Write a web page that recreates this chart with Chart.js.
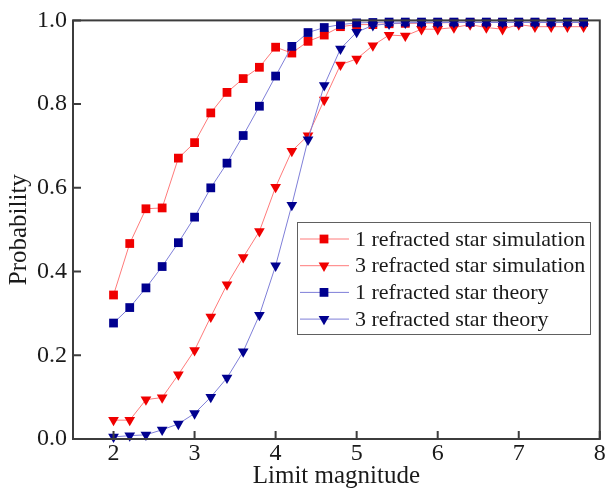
<!DOCTYPE html>
<html>
<head>
<meta charset="utf-8">
<script src="https://cdn.jsdelivr.net/npm/chart.js@4.4.1/dist/chart.umd.min.js"></script>
<style>
  html, body { margin: 0; padding: 0; background: #fff; }
  #wrap { position: relative; width: 606px; height: 493px; }
</style>
</head>
<body>
<div id="wrap"><canvas id="probChart"></canvas></div>
<script>
const magnitude = [2.0, 2.2, 2.4, 2.6, 2.8, 3.0, 3.2, 3.4, 3.6, 3.8, 4.0, 4.2, 4.4, 4.6, 4.8,
                   5.0, 5.2, 5.4, 5.6, 5.8, 6.0, 6.2, 6.4, 6.6, 6.8, 7.0, 7.2, 7.4, 7.6, 7.8]
const sim1 = [0.344, 0.467, 0.550, 0.552, 0.671, 0.708, 0.779, 0.828, 0.861, 0.888, 0.936, 0.922, 0.950, 0.965, 0.985,
              0.990, 0.990, 0.992, 0.993, 0.993, 0.994, 0.995, 0.995, 0.995, 0.995, 0.995, 0.995, 0.995, 0.995, 0.995]
const sim3 = [0.045, 0.045, 0.094, 0.099, 0.154, 0.212, 0.292, 0.369, 0.434, 0.496, 0.602, 0.688, 0.725, 0.810, 0.894,
              0.908, 0.940, 0.965, 0.963, 0.979, 0.979, 0.983, 0.990, 0.983, 0.979, 0.990, 0.985, 0.985, 0.985, 0.985]
const theory1 = [0.277, 0.314, 0.361, 0.412, 0.469, 0.530, 0.600, 0.659, 0.725, 0.795, 0.867, 0.938, 0.971, 0.983, 0.990,
                 0.994, 0.995, 0.996, 0.996, 0.996, 0.996, 0.996, 0.996, 0.996, 0.996, 0.996, 0.996, 0.996, 0.996, 0.996]
const theory3 = [0.005, 0.008, 0.010, 0.022, 0.036, 0.061, 0.100, 0.146, 0.209, 0.296, 0.414, 0.559, 0.715, 0.845, 0.932,
                 0.972, 0.988, 0.992, 0.994, 0.995, 0.995, 0.995, 0.995, 0.995, 0.995, 0.995, 0.995, 0.995, 0.995, 0.995]
const seriesNames = ["1 refracted star simulation", "3 refracted star simulation",
                     "1 refracted star theory", "3 refracted star theory"]
const xTicks = [2, 3, 4, 5, 6, 7, 8]
const yTicks = [0, 0.2, 0.4, 0.6, 0.8, 1.0]

const SERIF = '"Liberation Serif", "Times New Roman", serif'
const RED = "#f00000"
const RED_LINE = "#ff7a7a"
const BLUE = "#00008f"
const BLUE_LINE = "#7f7fd8"

function series(label, values, color, lineColor, style, order) {
  return {
    label: label,
    data: magnitude.map((m, i) => ({x: m, y: values[i]})),
    borderColor: lineColor,
    borderWidth: 1,
    pointRotation: style == "down" ? 180 : 0,
    pointStyle: style == "down" ? "triangle" : "rect",
    pointRadius: 6.2,
    pointHoverRadius: 6.2,
    pointBackgroundColor: color,
    pointBorderWidth: 0,
    tension: 0,
    clip: false,
    order: order
  }
}

// box around the plot with inward ticks
const frameTicks = {
  id: "frameTicks",
  afterDraw(chart) {
    const {ctx, chartArea: a, scales} = chart
    ctx.save()
    ctx.strokeStyle = "#3c3c3c"
    ctx.lineWidth = 2
    ctx.strokeRect(a.left, a.top, a.right - a.left, a.bottom - a.top)
    ctx.beginPath()
    xTicks.forEach(v => {
      const px = scales.x.getPixelForValue(v)
      ctx.moveTo(px, a.bottom)
      ctx.lineTo(px, a.bottom - 8)
    })
    yTicks.forEach(v => {
      const py = scales.y.getPixelForValue(v)
      ctx.moveTo(a.left, py)
      ctx.lineTo(a.left + 8, py)
    })
    ctx.stroke()
    ctx.restore()
  }
}

function drawMarker(ctx, style, x, y, r) {
  ctx.beginPath()
  if (style == "triangle") {
    ctx.moveTo(x, y + r)
    ctx.lineTo(x - r * 0.866, y - r / 2)
    ctx.lineTo(x + r * 0.866, y - r / 2)
    ctx.closePath()
  } else {
    const s = r * Math.SQRT1_2
    ctx.rect(x - s, y - s, 2 * s, 2 * s)
  }
  ctx.fill()
}

// legend box inside the plot
const boxLegend = {
  id: "boxLegend",
  afterDraw(chart) {
    const ctx = chart.ctx
    const left = 297, top = 222, right = 590, bottom = 334
    ctx.save()
    ctx.fillStyle = "#fff"
    ctx.fillRect(left, top, right - left, bottom - top)
    ctx.strokeStyle = "#606060"
    ctx.lineWidth = 1
    ctx.strokeRect(left + 0.5, top + 0.5, right - left, bottom - top)
    chart.data.datasets.forEach((ds, i) => {
      const cy = top + 17 + i * 26.7
      ctx.strokeStyle = ds.borderColor
      ctx.beginPath()
      ctx.moveTo(300, cy)
      ctx.lineTo(349, cy)
      ctx.stroke()
      ctx.fillStyle = ds.pointBackgroundColor
      drawMarker(ctx, ds.pointStyle, 324, cy, 6.2)
      ctx.fillStyle = "#1a1a1a"
      ctx.font = "22px " + SERIF
      ctx.textBaseline = "middle"
      ctx.fillText(ds.label, 355, cy + 1)
    })
    ctx.restore()
  }
}

const chart = new Chart(document.getElementById("probChart"), {
  type: "line",
  data: {
    datasets: [
      series(seriesNames[0], sim1, RED, RED_LINE, "square", 3),
      series(seriesNames[1], sim3, RED, RED_LINE, "down", 2),
      series(seriesNames[2], theory1, BLUE, BLUE_LINE, "square", 1),
      series(seriesNames[3], theory3, BLUE, BLUE_LINE, "down", 0)
    ]
  },
  options: {
    responsive: true,
    maintainAspectRatio: false,
    animation: false,
    layout: { padding: { top: 14, right: 6, left: 0, bottom: 0 } },
    plugins: {
      legend: { display: false },
      tooltip: { enabled: false }
    },
    scales: {
      x: {
        type: "linear",
        min: 1.5,
        max: 8,
        afterBuildTicks: scale => { scale.ticks = xTicks.map(v => ({value: v})) },
        afterFit: scale => { scale.height = 54 },
        grid: { display: false, drawTicks: false },
        border: { display: false },
        ticks: {
          font: { family: SERIF, size: 24 },
          color: "#1a1a1a",
          padding: 0,
          maxRotation: 0
        },
        title: {
          display: true,
          text: "Limit magnitude",
          font: { family: SERIF, size: 25 },
          color: "#1a1a1a",
          padding: { top: 0, bottom: 2 }
        }
      },
      y: {
        min: 0,
        max: 1,
        afterBuildTicks: scale => { scale.ticks = yTicks.map(v => ({value: v})) },
        afterFit: scale => { scale.width = 73 },
        grid: { display: false, drawTicks: false },
        border: { display: false },
        ticks: {
          font: { family: SERIF, size: 24 },
          color: "#1a1a1a",
          padding: 6,
          callback: v => v.toFixed(1)
        },
        title: {
          display: true,
          text: "Probability",
          font: { family: SERIF, size: 25 },
          color: "#1a1a1a",
          padding: { top: 4, bottom: 0 }
        }
      }
    }
  },
  plugins: [frameTicks, boxLegend]
})
</script>
</body>
</html>
